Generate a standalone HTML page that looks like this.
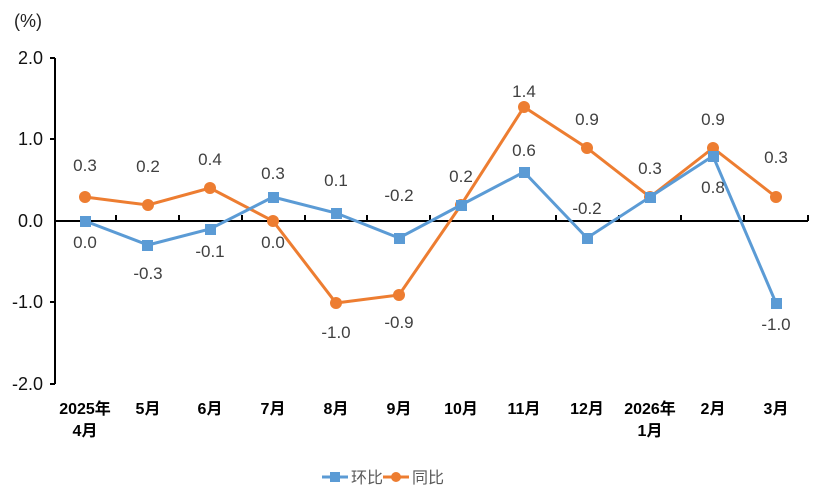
<!DOCTYPE html><html><head><meta charset="utf-8"><style>
body{margin:0;background:#fff}
svg text{font-family:"Liberation Sans","Noto Sans CJK SC",sans-serif}
</style></head><body>
<svg width="824" height="497" xmlns="http://www.w3.org/2000/svg">
<text x="14" y="27" font-size="18" fill="#222">(%)</text>
<g font-size="18" fill="#111" text-anchor="end">
<text x="43" y="64">2.0</text><text x="43" y="145">1.0</text><text x="43" y="227">0.0</text><text x="43" y="308">-1.0</text><text x="43" y="390">-2.0</text>
</g>
<g stroke="#000" stroke-width="2" fill="none">
<line x1="55" y1="58" x2="55" y2="384"/>
<line x1="55" y1="221" x2="808" y2="221"/>
<line x1="50" y1="58" x2="55" y2="58"/><line x1="50" y1="139" x2="55" y2="139"/><line x1="50" y1="302" x2="55" y2="302"/><line x1="50" y1="384" x2="55" y2="384"/>
<path d="M116 221v-6M179 221v-6M242 221v-6M305 221v-6M367 221v-6M430 221v-6M493 221v-6M556 221v-6M619 221v-6M681 221v-6M744 221v-6M808 221v-6"/>
</g>
<polyline fill="none" stroke="#ED7D31" stroke-width="3" points="85,197 148,205 210,188 273,221 336,303 399,295 461,205 524,107 587,148 650,197 713,148 776,197"/>
<g fill="#ED7D31"><circle cx="85" cy="197" r="6"/><circle cx="148" cy="205" r="6"/><circle cx="210" cy="188" r="6"/><circle cx="273" cy="221" r="6"/><circle cx="336" cy="303" r="6"/><circle cx="399" cy="295" r="6"/><circle cx="461" cy="205" r="6"/><circle cx="524" cy="107" r="6"/><circle cx="587" cy="148" r="6"/><circle cx="650" cy="197" r="6"/><circle cx="713" cy="148" r="6"/><circle cx="776" cy="197" r="6"/></g>
<polyline fill="none" stroke="#5B9BD5" stroke-width="3" points="85,221 148,245 210,229 273,197 336,213 399,238 461,205 524,172 587,238 650,197 713,156 776,303"/>
<g fill="#5B9BD5"><rect x="80" y="216" width="11" height="11"/><rect x="142" y="240" width="11" height="11"/><rect x="205" y="224" width="11" height="11"/><rect x="268" y="192" width="11" height="11"/><rect x="331" y="208" width="11" height="11"/><rect x="394" y="233" width="11" height="11"/><rect x="456" y="200" width="11" height="11"/><rect x="519" y="167" width="11" height="11"/><rect x="582" y="233" width="11" height="11"/><rect x="645" y="192" width="11" height="11"/><rect x="708" y="151" width="11" height="11"/><rect x="771" y="298" width="11" height="11"/></g>
<g font-size="17" fill="#404040" text-anchor="middle">
<text x="85" y="171">0.3</text><text x="148" y="172">0.2</text><text x="210" y="165">0.4</text><text x="273" y="179">0.3</text><text x="336" y="186">0.1</text><text x="399" y="201">-0.2</text><text x="461" y="182">0.2</text><text x="524" y="97">1.4</text><text x="524" y="156">0.6</text><text x="587" y="125">0.9</text><text x="587" y="214">-0.2</text><text x="650" y="174">0.3</text><text x="713" y="125">0.9</text><text x="713" y="193">0.8</text><text x="776" y="163">0.3</text>
<text x="85" y="248">0.0</text><text x="148" y="279">-0.3</text><text x="210" y="257">-0.1</text><text x="273" y="248">0.0</text><text x="336" y="338">-1.0</text><text x="399" y="328">-0.9</text><text x="776" y="330">-1.0</text>
</g>
<g font-size="16" fill="#000" text-anchor="middle" font-weight="bold">
<text x="85" y="414">2025年</text><text x="85" y="436">4月</text><text x="148" y="414">5月</text><text x="210" y="414">6月</text><text x="273" y="414">7月</text><text x="336" y="414">8月</text><text x="399" y="414">9月</text><text x="461" y="414">10月</text><text x="524" y="414">11月</text><text x="587" y="414">12月</text><text x="650" y="414">2026年</text><text x="650" y="436">1月</text><text x="713" y="414">2月</text><text x="776" y="414">3月</text>
</g>
<line x1="322" y1="477" x2="348" y2="477" stroke="#5B9BD5" stroke-width="3"/><rect x="330" y="472" width="10" height="10" fill="#5B9BD5"/>
<text x="351" y="483" font-size="16" fill="#595959">环比</text>
<line x1="383" y1="477" x2="409" y2="477" stroke="#ED7D31" stroke-width="3"/><circle cx="396" cy="477" r="5" fill="#ED7D31"/>
<text x="412" y="483" font-size="16" fill="#595959">同比</text>
</svg>
</body></html>
